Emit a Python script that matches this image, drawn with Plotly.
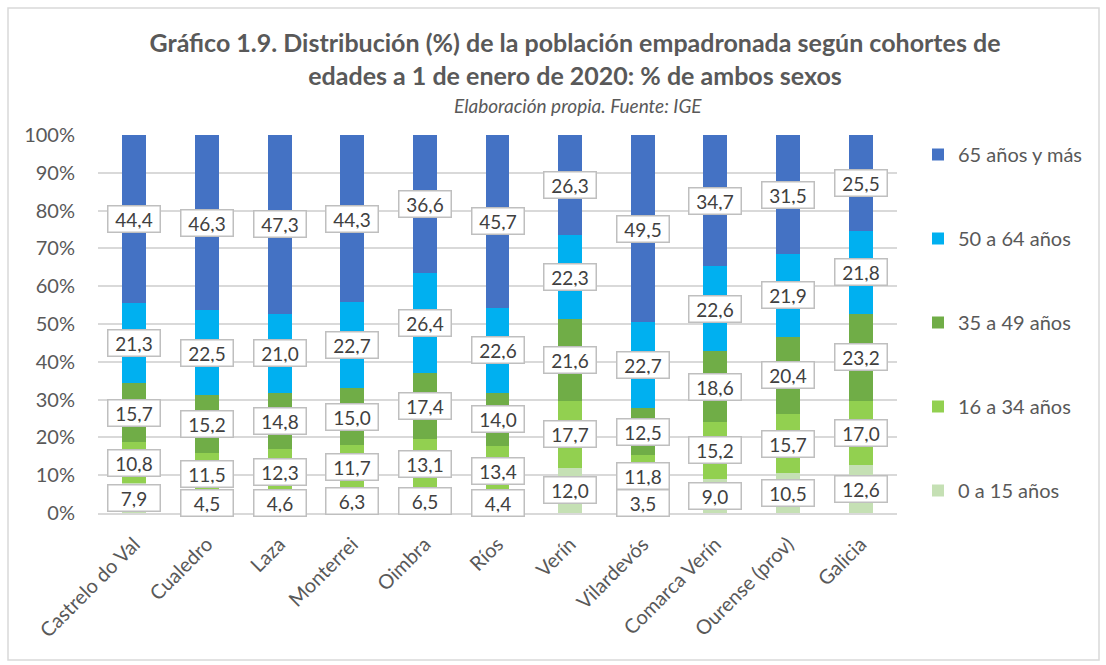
import plotly.graph_objects as go

categories = ["Castrelo do Val", "Cualedro", "Laza", "Monterrei", "Oimbra", "Ríos",
              "Verín", "Vilardevós", "Comarca Verín", "Ourense (prov)", "Galicia"]
age_0_15 = [7.9, 4.5, 4.6, 6.3, 6.5, 4.4, 12.0, 3.5, 9.0, 10.5, 12.6]
age_16_34 = [10.8, 11.5, 12.3, 11.7, 13.1, 13.4, 17.7, 11.8, 15.2, 15.7, 17.0]
age_35_49 = [15.7, 15.2, 14.8, 15.0, 17.4, 14.0, 21.6, 12.5, 18.6, 20.4, 23.2]
age_50_64 = [21.3, 22.5, 21.0, 22.7, 26.4, 22.6, 22.3, 22.7, 22.6, 21.9, 21.8]
age_65 = [44.4, 46.3, 47.3, 44.3, 36.6, 45.7, 26.3, 49.5, 34.7, 31.5, 25.5]

series = [
    ("0 a 15 años", age_0_15, "#C5E0B4"),
    ("16 a 34 años", age_16_34, "#92D050"),
    ("35 a 49 años", age_35_49, "#70AD47"),
    ("50 a 64 años", age_50_64, "#00B0F0"),
    ("65 años y más", age_65, "#4472C4"),
]

FONT = "Lato"
GRAY = "#595959"

L, R, T, B = 98, 897, 135, 513
def px(x):
    return (x - L) / (R - L)
def py(y):
    return (B - y) / (B - T)

fig = go.Figure()
for i, (name, vals, color) in enumerate(series):
    fig.add_trace(go.Bar(
        x=categories, y=vals, name=name, marker_color=color,
        marker_line_width=0, width=0.33, legendgroup=name,
        legendrank=len(series) - i,
    ))

# data labels in boxes
annotations = []
for ci, cat in enumerate(categories):
    vals = [s[1][ci] for s in series]
    tot = sum(vals)
    cum = 0
    centers = []
    for v in vals:
        centers.append((cum + v / 2) / tot * 100)
        cum += v
    pos = []
    for i, c in enumerate(centers):
        if i == 0:
            p = max(c, 2.6)
        else:
            p = max(c, pos[-1] + 7.2)
        pos.append(p)
    for v, p in zip(vals, pos):
        annotations.append(dict(
            x=cat, y=p, xref="x", yref="y", text=f"{v:.1f}".replace(".", ","),
            showarrow=False, font=dict(family=FONT, size=19, color="#404040"),
            bgcolor="white", bordercolor="#BFBFBF", borderwidth=1.5, borderpad=3,
            width=45, height=19,
        ))

annotations.append(dict(
    text="<i>Elaboración propia. Fuente: IGE</i>", x=px(578), y=py(105),
    xref="paper", yref="paper", showarrow=False, yanchor="middle",
    font=dict(family=FONT, size=19, color=GRAY),
))

fig.update_layout(
    width=1106, height=665,
    margin=dict(l=L, r=1106 - R, t=T, b=665 - B),
    barmode="stack", barnorm="percent",
    paper_bgcolor="white", plot_bgcolor="white",
    font=dict(family=FONT, color=GRAY),
    title=dict(
        text="<b>Gráfico 1.9. Distribución (%) de la población empadronada según cohortes de<br>edades a 1 de enero de 2020: % de ambos sexos</b>",
        x=575 / 1106, xanchor="center", y=1 - 52 / 665, yanchor="middle",
        font=dict(family=FONT, size=25, color=GRAY),
    ),
    xaxis=dict(
        tickangle=-45, tickfont=dict(family=FONT, size=20, color=GRAY),
        showline=True, linecolor="#D9D9D9", linewidth=1.5, ticks="",
        ticklabelstandoff=10,
    ),
    yaxis=dict(
        range=[0, 100], dtick=10, ticksuffix="%", gridcolor="#D9D9D9", gridwidth=1.5,
        tickfont=dict(family=FONT, size=20, color=GRAY), zeroline=False,
        ticklabelstandoff=22,
    ),
    legend=dict(
        x=px(918), y=py(135), xanchor="left", yanchor="top",
        traceorder="grouped", tracegroupgap=55,
        font=dict(family=FONT, size=20, color=GRAY),
        itemwidth=30,
    ),
    annotations=annotations,
    shapes=[dict(
        type="rect", xref="paper", yref="paper",
        x0=px(8), x1=px(1099), y0=py(660), y1=py(8),
        line=dict(color="#D9D9D9", width=1.5), fillcolor="rgba(0,0,0,0)",
    )],
)

fig.write_html("out.html", config={"displayModeBar": False},
               post_script="document.body.style.margin='0px';")
